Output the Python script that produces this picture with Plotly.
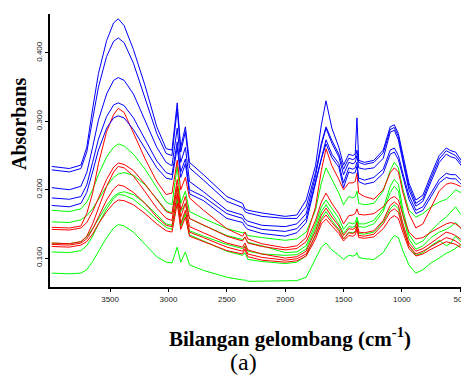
import plotly.graph_objects as go

# Wavenumbers (cm-1) shared by every spectrum
wavenumber = [4000, 3850, 3750, 3700, 3650, 3600, 3530, 3470, 3430, 3380,
              3300, 3200, 3100, 3020, 2970, 2925, 2895, 2855, 2820, 2700,
              2500, 2365, 2345, 2320, 2200, 2000, 1900, 1820, 1740, 1690,
              1650, 1600, 1540, 1500, 1455, 1420, 1400, 1385, 1370, 1320,
              1240, 1160, 1100, 1065, 1030, 990, 940, 880, 820, 750,
              680, 620, 580, 540, 500, 460, 430]

blue1 = [0.234, 0.231, 0.236, 0.262, 0.318, 0.370, 0.418, 0.444, 0.450, 0.440,
         0.405, 0.352, 0.292, 0.260, 0.258, 0.327, 0.262, 0.292, 0.240, 0.222,
         0.190, 0.180, 0.172, 0.170, 0.166, 0.161, 0.163, 0.185, 0.235, 0.295,
         0.330, 0.290, 0.262, 0.236, 0.252, 0.250, 0.252, 0.305, 0.243, 0.240,
         0.243, 0.258, 0.292, 0.295, 0.282, 0.248, 0.210, 0.185, 0.192, 0.222,
         0.250, 0.261, 0.257, 0.255, 0.245, 0.235, 0.230]
blue2 = [0.229, 0.226, 0.231, 0.255, 0.303, 0.350, 0.395, 0.417, 0.422, 0.415,
         0.385, 0.335, 0.282, 0.253, 0.250, 0.318, 0.255, 0.285, 0.232, 0.214,
         0.183, 0.174, 0.168, 0.166, 0.161, 0.158, 0.158, 0.175, 0.225, 0.268,
         0.292, 0.272, 0.252, 0.230, 0.246, 0.244, 0.246, 0.258, 0.240, 0.237,
         0.240, 0.254, 0.288, 0.291, 0.278, 0.244, 0.205, 0.180, 0.187, 0.217,
         0.245, 0.257, 0.253, 0.250, 0.241, 0.231, 0.226]
blue3 = [0.203, 0.200, 0.205, 0.225, 0.262, 0.302, 0.340, 0.360, 0.364, 0.360,
         0.340, 0.300, 0.262, 0.240, 0.235, 0.290, 0.240, 0.262, 0.212, 0.197,
         0.170, 0.163, 0.157, 0.154, 0.148, 0.146, 0.150, 0.165, 0.220, 0.265,
         0.290, 0.268, 0.248, 0.222, 0.240, 0.238, 0.240, 0.250, 0.232, 0.230,
         0.232, 0.246, 0.284, 0.287, 0.273, 0.240, 0.200, 0.176, 0.183, 0.212,
         0.240, 0.252, 0.248, 0.246, 0.237, 0.227, 0.222]
blue4 = [0.188, 0.186, 0.190, 0.207, 0.240, 0.274, 0.307, 0.324, 0.327, 0.323,
         0.305, 0.273, 0.242, 0.225, 0.222, 0.270, 0.226, 0.245, 0.200, 0.190,
         0.165, 0.158, 0.152, 0.148, 0.142, 0.139, 0.143, 0.158, 0.213, 0.250,
         0.273, 0.252, 0.238, 0.210, 0.232, 0.230, 0.232, 0.240, 0.217, 0.214,
         0.218, 0.230, 0.258, 0.261, 0.250, 0.223, 0.192, 0.170, 0.175, 0.195,
         0.215, 0.224, 0.222, 0.222, 0.215, 0.210, 0.208]
blue5 = [0.177, 0.175, 0.180, 0.196, 0.226, 0.258, 0.290, 0.305, 0.308, 0.305,
         0.288, 0.259, 0.232, 0.217, 0.215, 0.262, 0.218, 0.238, 0.194, 0.184,
         0.158, 0.152, 0.146, 0.142, 0.136, 0.132, 0.137, 0.152, 0.207, 0.245,
         0.267, 0.247, 0.233, 0.203, 0.226, 0.224, 0.225, 0.234, 0.212, 0.208,
         0.211, 0.224, 0.252, 0.255, 0.244, 0.217, 0.186, 0.165, 0.170, 0.190,
         0.210, 0.218, 0.216, 0.216, 0.209, 0.205, 0.203]

red1 = [0.145, 0.144, 0.147, 0.165, 0.195, 0.238, 0.285, 0.310, 0.319, 0.313,
        0.283, 0.245, 0.212, 0.193, 0.195, 0.243, 0.200, 0.218, 0.188, 0.170,
        0.143, 0.132, 0.138, 0.128, 0.121, 0.115, 0.118, 0.130, 0.175, 0.228,
        0.260, 0.235, 0.215, 0.200, 0.210, 0.210, 0.212, 0.224, 0.195, 0.190,
        0.186, 0.200, 0.225, 0.232, 0.226, 0.195, 0.165, 0.144, 0.150, 0.175,
        0.198, 0.208, 0.210, 0.208, 0.205, 0.200, 0.198]
red2 = [0.142, 0.141, 0.144, 0.152, 0.168, 0.188, 0.215, 0.233, 0.239, 0.237,
        0.228, 0.208, 0.185, 0.168, 0.165, 0.215, 0.170, 0.190, 0.158, 0.148,
        0.132, 0.125, 0.131, 0.122, 0.117, 0.112, 0.114, 0.124, 0.155, 0.182,
        0.195, 0.180, 0.165, 0.150, 0.162, 0.163, 0.165, 0.172, 0.164, 0.163,
        0.165, 0.175, 0.187, 0.190, 0.185, 0.162, 0.138, 0.128, 0.130, 0.138,
        0.145, 0.150, 0.152, 0.150, 0.145, 0.135, 0.133]
red3 = [0.122, 0.121, 0.124, 0.132, 0.150, 0.172, 0.205, 0.226, 0.234, 0.232,
        0.220, 0.197, 0.173, 0.158, 0.155, 0.205, 0.160, 0.180, 0.146, 0.137,
        0.122, 0.116, 0.122, 0.112, 0.106, 0.100, 0.102, 0.110, 0.140, 0.163,
        0.173, 0.160, 0.147, 0.133, 0.143, 0.142, 0.144, 0.152, 0.138, 0.137,
        0.140, 0.155, 0.177, 0.182, 0.177, 0.150, 0.122, 0.110, 0.114, 0.122,
        0.130, 0.138, 0.136, 0.133, 0.128, 0.125, 0.123]
red4 = [0.120, 0.119, 0.122, 0.128, 0.142, 0.160, 0.185, 0.201, 0.207, 0.205,
        0.196, 0.180, 0.160, 0.148, 0.146, 0.195, 0.150, 0.170, 0.138, 0.130,
        0.116, 0.110, 0.117, 0.106, 0.101, 0.097, 0.099, 0.106, 0.133, 0.155,
        0.163, 0.152, 0.140, 0.128, 0.137, 0.136, 0.138, 0.146, 0.133, 0.132,
        0.135, 0.150, 0.168, 0.172, 0.167, 0.143, 0.118, 0.106, 0.110, 0.117,
        0.124, 0.130, 0.128, 0.125, 0.120, 0.117, 0.116]
red5 = [0.117, 0.116, 0.119, 0.124, 0.135, 0.150, 0.168, 0.180, 0.185, 0.184,
        0.178, 0.165, 0.150, 0.140, 0.138, 0.180, 0.142, 0.160, 0.132, 0.124,
        0.111, 0.106, 0.113, 0.102, 0.097, 0.094, 0.096, 0.103, 0.128, 0.150,
        0.157, 0.147, 0.136, 0.125, 0.133, 0.132, 0.134, 0.142, 0.130, 0.129,
        0.131, 0.143, 0.158, 0.162, 0.158, 0.137, 0.114, 0.103, 0.106, 0.113,
        0.119, 0.124, 0.122, 0.120, 0.116, 0.113, 0.112]

green1 = [0.170, 0.168, 0.172, 0.182, 0.200, 0.222, 0.248, 0.262, 0.267, 0.264,
          0.252, 0.230, 0.203, 0.182, 0.178, 0.235, 0.180, 0.198, 0.168, 0.158,
          0.143, 0.137, 0.138, 0.133, 0.130, 0.126, 0.128, 0.138, 0.170, 0.210,
          0.232, 0.215, 0.195, 0.178, 0.190, 0.188, 0.190, 0.198, 0.180, 0.178,
          0.180, 0.198, 0.228, 0.240, 0.232, 0.200, 0.170, 0.160, 0.165, 0.175,
          0.182, 0.186, 0.192, 0.200, 0.196, 0.192, 0.190]
green2 = [0.153, 0.152, 0.156, 0.162, 0.172, 0.186, 0.205, 0.218, 0.223, 0.225,
          0.221, 0.207, 0.187, 0.170, 0.166, 0.205, 0.168, 0.180, 0.158, 0.148,
          0.133, 0.127, 0.130, 0.123, 0.118, 0.108, 0.109, 0.118, 0.150, 0.175,
          0.185, 0.172, 0.158, 0.142, 0.152, 0.150, 0.152, 0.160, 0.150, 0.150,
          0.155, 0.172, 0.205, 0.215, 0.208, 0.170, 0.135, 0.120, 0.125, 0.140,
          0.152, 0.160, 0.168, 0.175, 0.165, 0.158, 0.155]
green3 = [0.122, 0.121, 0.124, 0.131, 0.143, 0.158, 0.177, 0.190, 0.195, 0.197,
          0.193, 0.180, 0.163, 0.150, 0.148, 0.188, 0.150, 0.165, 0.140, 0.132,
          0.120, 0.114, 0.118, 0.110, 0.106, 0.104, 0.105, 0.113, 0.145, 0.168,
          0.178, 0.165, 0.150, 0.136, 0.146, 0.145, 0.147, 0.155, 0.146, 0.145,
          0.150, 0.168, 0.196, 0.205, 0.198, 0.162, 0.128, 0.113, 0.118, 0.130,
          0.138, 0.142, 0.146, 0.152, 0.144, 0.137, 0.134]
green4 = [0.109, 0.108, 0.111, 0.118, 0.132, 0.150, 0.172, 0.187, 0.193, 0.192,
          0.186, 0.172, 0.156, 0.145, 0.142, 0.185, 0.146, 0.165, 0.134, 0.125,
          0.110, 0.104, 0.108, 0.098, 0.095, 0.092, 0.094, 0.103, 0.135, 0.158,
          0.168, 0.155, 0.142, 0.128, 0.138, 0.137, 0.139, 0.147, 0.136, 0.135,
          0.138, 0.153, 0.172, 0.178, 0.172, 0.145, 0.118, 0.104, 0.108, 0.118,
          0.126, 0.118, 0.122, 0.132, 0.125, 0.118, 0.115]
green5 = [0.078, 0.077, 0.078, 0.083, 0.095, 0.110, 0.130, 0.144, 0.149, 0.147,
          0.138, 0.120, 0.102, 0.094, 0.093, 0.116, 0.094, 0.109, 0.090, 0.082,
          0.072, 0.068, 0.068, 0.066, 0.066, 0.066, 0.067, 0.072, 0.100, 0.116,
          0.122, 0.112, 0.104, 0.098, 0.104, 0.103, 0.104, 0.108, 0.101, 0.099,
          0.098, 0.108, 0.125, 0.133, 0.130, 0.110, 0.090, 0.078, 0.083, 0.093,
          0.100, 0.107, 0.110, 0.115, 0.119, 0.118, 0.116]

x_ticks = [3500, 3000, 2500, 2000, 1500, 1000, 500]
y_ticks = [0.1, 0.2, 0.3, 0.4]
y_tick_labels = ["0.100", "0.200", "0.300", "0.400"]

series = [
    (green1, "#00FF00"), (green2, "#00FF00"), (green3, "#00FF00"),
    (green4, "#00FF00"), (green5, "#00FF00"),
    (red1, "#FF0000"), (red2, "#FF0000"), (red3, "#FF0000"),
    (red4, "#FF0000"), (red5, "#FF0000"),
    (blue1, "#0000FF"), (blue2, "#0000FF"), (blue3, "#0000FF"),
    (blue4, "#0000FF"), (blue5, "#0000FF"),
]

fig = go.Figure()
for ys, col in series:
    fig.add_trace(go.Scatter(x=wavenumber, y=ys, mode="lines",
                             line=dict(color=col, width=1),
                             showlegend=False, hoverinfo="skip"))

# The page adds an 8px body margin; size the figure so that the screen
# positions match the reference.
OFF = 8
W_PX, H_PX = 469 - OFF, 377 - OFF
L, T, B = 50 - OFF, 14 - OFF, 90
pw, ph = W_PX - L, H_PX - T - B

fig.update_layout(
    width=W_PX, height=H_PX,
    margin=dict(l=L, r=0, t=T, b=B, autoexpand=False),
    paper_bgcolor="white", plot_bgcolor="white",
    xaxis=dict(range=[4015, 425], showgrid=False, zeroline=False, automargin=False,
               showline=True, linecolor="black", linewidth=2,
               ticks="outside", ticklen=3, tickcolor="black",
               ticklabeloverflow="allow",
               tickvals=x_ticks, ticktext=[str(v) for v in x_ticks],
               tickfont=dict(family="Arial, Liberation Sans", size=8, color="#222")),
    yaxis=dict(range=[0.0577, 0.457], showgrid=False, zeroline=False, automargin=False,
               showline=True, linecolor="black", linewidth=2,
               ticks="outside", ticklen=3, tickcolor="black",
               tickvals=y_ticks, ticktext=y_tick_labels, tickangle=-90,
               tickfont=dict(family="Arial, Liberation Sans", size=8, color="#222")),
)


def px_to_paper(xp, yp):
    # xp, yp are screen pixels; convert to paper fractions of this figure
    xf = xp - OFF
    yf = yp - OFF
    return (xf - L) / pw, (H_PX - B - yf) / ph


ax, ay = px_to_paper(19, 124)
tx, ty = px_to_paper(290, 337)
ax2, ay2 = px_to_paper(243, 362)
fig.add_annotation(text="<b>Absorbans</b>", x=ax, y=ay, xref="paper", yref="paper",
                   showarrow=False, textangle=-90, xanchor="center", yanchor="middle",
                   font=dict(family="Liberation Serif, Times New Roman", size=20, color="black"))
fig.add_annotation(text="<b>Bilangan gelombang (cm<sup>-1</sup>)</b>", x=tx, y=ty,
                   xref="paper", yref="paper", showarrow=False,
                   xanchor="center", yanchor="middle",
                   font=dict(family="Liberation Serif, Times New Roman", size=21, color="black"))
fig.add_annotation(text="(a)", x=ax2, y=ay2, xref="paper", yref="paper",
                   showarrow=False, xanchor="center", yanchor="middle",
                   font=dict(family="Liberation Serif, Times New Roman", size=24, color="black"))

fig.write_html("out.html")
